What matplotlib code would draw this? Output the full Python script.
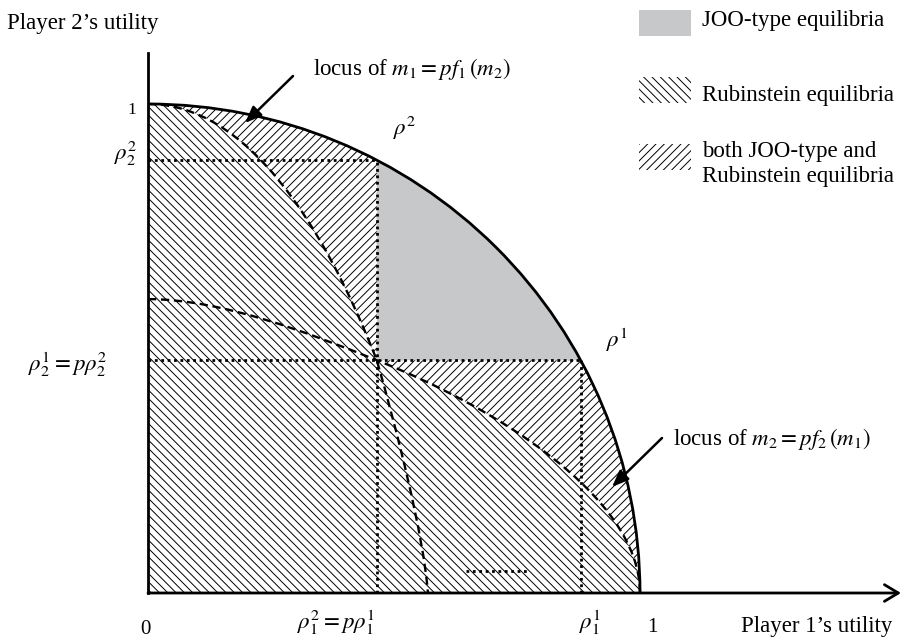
import numpy as np
import matplotlib
matplotlib.use("Agg")
import matplotlib.pyplot as plt
from matplotlib.path import Path
from matplotlib.patches import Wedge, Arc, PathPatch, Rectangle

plt.rcParams['font.family'] = ['Liberation Serif', 'DejaVu Serif']
plt.rcParams['mathtext.fontset'] = 'stix'
plt.rcParams['hatch.linewidth'] = 0.7

# corner points on the frontier (player 1, player 2 utility)
rho1 = (0.880, 0.476)
rho2 = (0.465, 0.885)
# bezier control points of the two loci (through the crossing point)
locus1 = [(0, 1.0), (0.20, 1.0), (0.356, 0.756), (0.465, 0.476),
          (0.505, 0.336), (0.56, 0.12), (0.569, 0)]
locus2 = [(0, 0.601), (0.15, 0.601), (0.326, 0.532), (0.465, 0.476),
          (0.697, 0.384), (1.0, 0.20), (1.0, 0)]
stray_x = [0.646, 0.772]
stray_y = [0.046, 0.046]

W, H = 911, 638
fig = plt.figure(figsize=(W / 100, H / 100), dpi=100)
ax = fig.add_axes([0, 0, 1, 1])
ax.axis('off')

# pixel frame of the drawing
X0, Y0, SX, SY = 148, 593, 492, 489
def u(px):
    return (px - X0) / SX
def v(py):
    return (Y0 - py) / SY

ax.set_xlim(u(0), u(W))
ax.set_ylim(v(H), v(0))

cross = (rho2[0], rho1[1])
a1 = np.degrees(np.arctan2(rho1[1], rho1[0]))
a2 = np.degrees(np.arctan2(rho2[1], rho2[0]))

def arc_part(t1, t2):
    p = Path.arc(t1, t2)
    return list(p.vertices[1:]), list(p.codes[1:])

C4 = [Path.CURVE4] * 3
RUB = '\\\\\\\\'
BOTH = '////'

# Rubinstein region: everything under the frontier
ax.add_patch(Wedge((0, 0), 1, 0, 90, facecolor='white', edgecolor='black',
                   lw=0, hatch=RUB, zorder=1))

# JOO-type only (grey)
av, ac = arc_part(a1, a2)
verts = [cross, rho1] + av + [cross]
codes = [Path.MOVETO, Path.LINETO] + ac + [Path.CLOSEPOLY]
ax.add_patch(PathPatch(Path(verts, codes), facecolor='#c7c8ca',
                       edgecolor='none', zorder=2))

# both, upper left
av, ac = arc_part(a2, 90)
verts = locus1[:4] + [rho2] + av + [locus1[0]]
codes = [Path.MOVETO] + C4 + [Path.LINETO] + ac + [Path.CLOSEPOLY]
ax.add_patch(PathPatch(Path(verts, codes), facecolor='white', edgecolor='black',
                       lw=0, hatch=BOTH, zorder=2))

# both, lower right
av, ac = arc_part(0, a1)
verts = locus2[3:] + av + [cross, cross]
codes = [Path.MOVETO] + C4 + ac + [Path.LINETO, Path.CLOSEPOLY]
ax.add_patch(PathPatch(Path(verts, codes), facecolor='white', edgecolor='black',
                       lw=0, hatch=BOTH, zorder=2))

# dotted guides
dot = dict(color='black', lw=2, ls=(0, (1, 1.3)), zorder=3)
ax.plot([0, rho2[0]], [rho2[1], rho2[1]], **dot)
ax.plot([rho2[0], rho2[0]], [0, rho2[1]], **dot)
ax.plot([0, rho1[0]], [rho1[1], rho1[1]], **dot)
ax.plot([rho1[0], rho1[0]], [0, rho1[1]], **dot)
ax.plot(stray_x, stray_y, **dot)

# dashed loci
for pts in (locus1, locus2):
    path = Path(pts, [Path.MOVETO] + C4 + C4)
    ax.add_patch(PathPatch(path, fill=False, edgecolor='black', lw=1.7,
                           ls=(0, (3.5, 2)), zorder=3))

# frontier
ax.add_patch(Arc((0, 0), 2, 2, theta1=0, theta2=90, color='black', lw=2, zorder=4))

# axes
ax.plot([0, 0], [0, v(53)], color='black', lw=2, zorder=5)
ax.annotate('', xy=(u(901), 0), xytext=(0, 0),
            arrowprops=dict(arrowstyle='->,head_length=0.5,head_width=0.3',
                            lw=2, color='black', shrinkA=0, shrinkB=0,
                            mutation_scale=20), zorder=5)

# arrows to the loci
arw = dict(arrowstyle='-|>,head_length=0.5,head_width=0.2', lw=1.8,
           color='black', shrinkA=0, shrinkB=0, mutation_scale=20)
ax.annotate('', xy=(u(245), v(123)), xytext=(u(293), v(76)), arrowprops=arw, zorder=6)
ax.annotate('', xy=(u(612), v(487)), xytext=(u(662), v(438)), arrowprops=arw, zorder=6)

fs = 16.5
def label(px, py, s, size=fs, ha='center', va='center'):
    ax.text(u(px), v(py), s, fontsize=size, ha=ha, va=va, zorder=7)

label(7, 29, 'Player 2\u2019s utility', ha='left', va='baseline')
label(741, 632, 'Player 1\u2019s utility', ha='left', va='baseline')
label(132, 110, '1', size=12.5)
label(145, 629, '0', size=15)
label(652, 627, '1', size=15)
label(126, 153, r'$\rho_2^2$')
label(68, 364, r'$\rho_2^1 = p\rho_2^2$')
label(336, 622, r'$\rho_1^2 = p\rho_{\mathit{1}}^{\mathit{1}}$')
label(590, 622, r'$\rho_1^1$')
label(405, 128, r'$\rho^2$')
label(617, 340, r'$\rho^1$')
label(313, 75, r'locus of $m_{\mathit{1}} = pf_{\mathit{1}}\,(m_2)$', ha='left', va='baseline')
label(673, 445, r'locus of $m_2 = pf_2\,(m_{\mathit{1}})$', ha='left', va='baseline')

# legend
bx, bw = u(639), u(691) - u(639)
bh = v(10) - v(36)
ax.add_patch(Rectangle((bx, v(36)), bw, bh, facecolor='#c7c8ca', edgecolor='none'))
ax.add_patch(Rectangle((bx, v(103)), bw, bh, facecolor='white', edgecolor='black',
                       lw=0, hatch=RUB))
ax.add_patch(Rectangle((bx, v(170)), bw, bh, facecolor='white', edgecolor='black',
                       lw=0, hatch=BOTH))
label(702, 26, 'JOO-type equilibria', ha='left', va='baseline')
label(702, 101, 'Rubinstein equilibria', ha='left', va='baseline')
label(702, 157, 'both JOO-type and', ha='left', va='baseline')
label(702, 182, 'Rubinstein equilibria', ha='left', va='baseline')

fig.savefig('out.png', dpi=100)
